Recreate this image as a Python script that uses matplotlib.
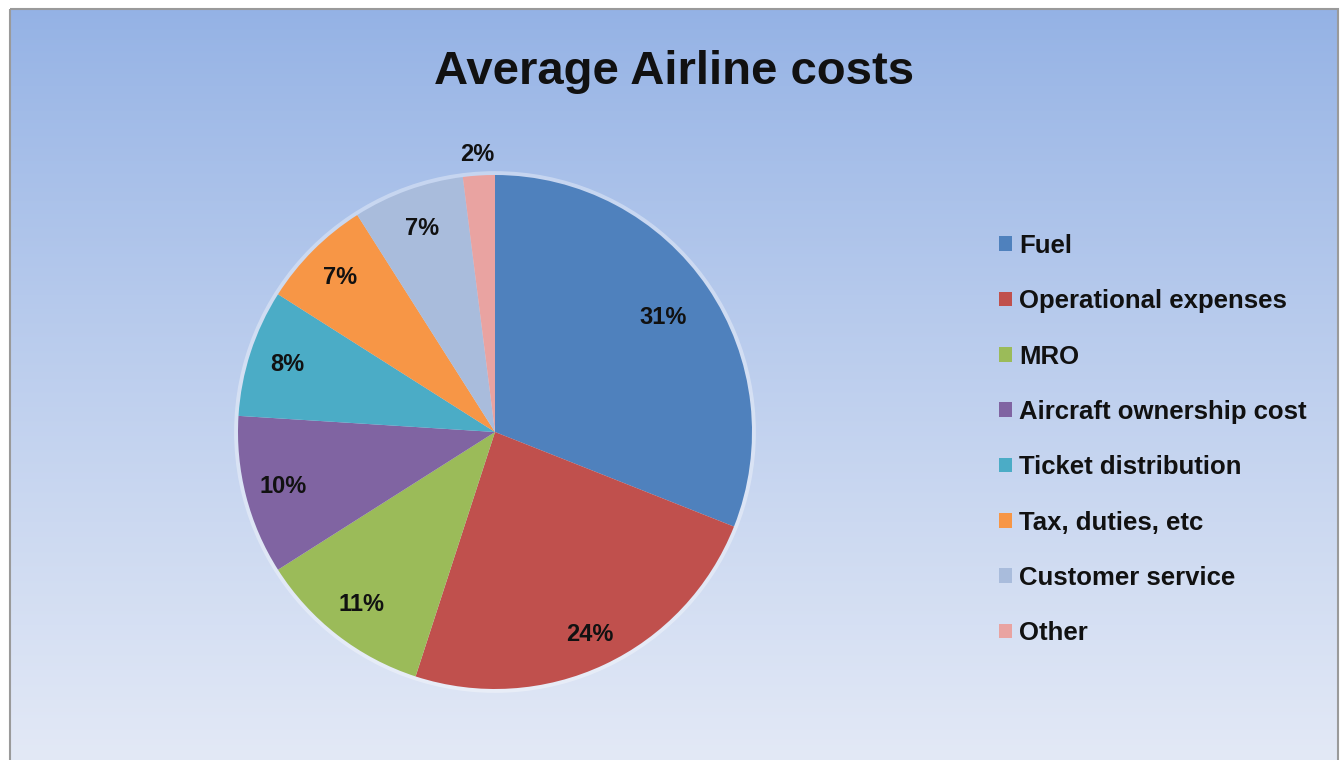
import numpy as np
import matplotlib.pyplot as plt
from matplotlib.patches import Rectangle, Circle

categories = ["Fuel", "Operational expenses", "MRO", "Aircraft ownership cost",
              "Ticket distribution", "Tax, duties, etc", "Customer service", "Other"]
shares = [31, 24, 11, 10, 8, 7, 7, 2]
colors = ["#4F81BD", "#C0504D", "#9BBB59", "#8064A2",
          "#4BACC6", "#F79646", "#A9BCDC", "#E9A3A1"]

W, H = 1342, 760
font = ["Liberation Sans", "DejaVu Sans"]

fig = plt.figure(figsize=(W / 100, H / 100), dpi=100)
fig.patch.set_facecolor("white")

# chart area with vertical gradient and grey frame
bg = fig.add_axes([0, 0, 1, 1])
bg.set_xlim(0, W)
bg.set_ylim(H, 0)
bg.axis("off")
top = np.array([148, 178, 229]) / 255
bot = np.array([227, 233, 246]) / 255
t = np.linspace(0, 1, 256)[:, None]
grad = top + (bot - top) * t ** 0.9
bg.imshow(grad[:, None, :].repeat(2, axis=1), extent=(10, 1337, H + 2, 9),
          aspect="auto", interpolation="bilinear")
bg.add_patch(Rectangle((9.5, 8.5), 1328, H + 10, fill=False,
                       edgecolor="#9a9a9a", linewidth=1.5))

fig.text(674 / W, 1 - 72 / H, "Average Airline costs", ha="center", va="center",
         fontsize=34, fontweight="bold", family=font, color="#111111")

# pie
cx, cy, r = 495, 432, 257
ax = fig.add_axes([(cx - r) / W, (H - cy - r) / H, 2 * r / W, 2 * r / H])
ax.axis("off")

wedges, texts, pcts = ax.pie(shares, colors=colors, startangle=90, counterclock=False,
                             radius=1, autopct="%d%%", pctdistance=0.85,
                             textprops=dict(fontsize=17, fontweight="bold",
                                            family=font, color="#111111"),
                             wedgeprops=dict(linewidth=0))
ax.set_xlim(-1, 1)
ax.set_ylim(-1, 1)
ax.add_patch(Circle((0, 0), 1.015, color="white", alpha=0.35, lw=0,
                    clip_on=False, zorder=0))
for w in wedges:
    w.set_clip_on(False)
label_r = [0.79, 0.87, 0.85, 0.85, 0.85, 0.85, 0.84, 1.08]
for w, p, lr in zip(wedges, pcts, label_r):
    ang = np.deg2rad((w.theta1 + w.theta2) / 2)
    p.set_position((lr * np.cos(ang), lr * np.sin(ang)))
    p.set_clip_on(False)

fig.legend(wedges, categories, loc="upper left",
           bbox_to_anchor=(986 / W, 1 - 221 / H), frameon=False,
           prop=dict(size=18.5, weight="bold", family=font),
           labelspacing=1.22, handlelength=0.5, handleheight=0.5,
           handletextpad=0.3, borderpad=0, labelcolor="#111111")

fig.savefig("out.png", dpi=100)
